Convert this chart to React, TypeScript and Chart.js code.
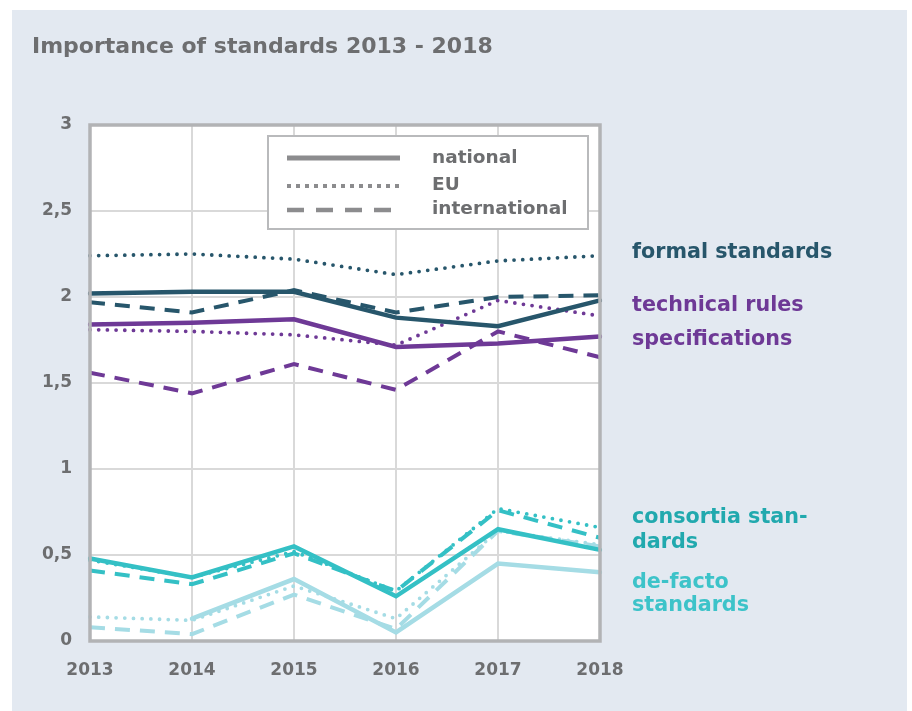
import React, { useEffect, useRef } from "react";
import { Chart, registerables } from "chart.js";

Chart.register(...registerables);

const years = ["2013", "2014", "2015", "2016", "2017", "2018"];
const yTickLabels = ["0", "0,5", "1", "1,5", "2", "2,5", "3"];

const formalNational = [2.02, 2.03, 2.03, 1.88, 1.83, 1.98];
const formalEU = [2.24, 2.25, 2.22, 2.13, 2.21, 2.24];
const formalIntl = [1.97, 1.91, 2.04, 1.91, 2.0, 2.01];

const techNational = [1.84, 1.85, 1.87, 1.71, 1.73, 1.77];
const techEU = [1.81, 1.8, 1.78, 1.72, 1.98, 1.89];
const techIntl = [1.56, 1.44, 1.61, 1.46, 1.8, 1.65];

const consNational = [0.48, 0.37, 0.55, 0.26, 0.65, 0.53];
const consEU = [0.47, 0.37, 0.52, 0.29, 0.77, 0.66];
const consIntl = [0.41, 0.33, 0.51, 0.29, 0.76, 0.6];

const defNational = [null, 0.13, 0.36, 0.05, 0.45, 0.4];
const defEU = [0.14, 0.12, 0.32, 0.13, 0.64, 0.56];
const defIntl = [0.08, 0.04, 0.27, 0.07, 0.64, 0.55];

const legendLabels = ["national", "EU", "international"];
const titleText = "Importance of standards 2013 - 2018";

const FONT = "'DejaVu Sans', sans-serif";
const C_FORMAL = "#27566b";
const C_PURPLE = "#6e3996";
const C_CONS = "#34c0c5";
const C_DEF = "#a5dce5";
const C_TEXT = "#6d6e70";

type Style = "solid" | "dotted" | "dashed";

function ds(label: string, data: (number | null)[], color: string, style: Style) {
  const base: any = {
    label,
    data,
    borderColor: color,
    backgroundColor: color,
    pointRadius: 0,
    pointHoverRadius: 0,
    tension: 0,
    fill: false,
    spanGaps: false,
  };
  if (style === "solid") {
    base.borderWidth = 4.5;
    base.borderCapStyle = "round";
  } else if (style === "dotted") {
    base.borderWidth = 3.8;
    base.borderDash = [0, 8.7];
    base.borderCapStyle = "round";
  } else {
    base.borderWidth = 4;
    base.borderDash = [15, 10];
    base.borderCapStyle = "butt";
  }
  return base;
}

const decorPlugin = {
  id: "decor",
  beforeDraw(chart: any) {
    const { ctx, chartArea } = chart;
    ctx.save();
    ctx.fillStyle = "#ffffff";
    ctx.fillRect(chartArea.left, chartArea.top, chartArea.right - chartArea.left, chartArea.bottom - chartArea.top);
    ctx.fillStyle = C_TEXT;
    ctx.font = `bold 22px ${FONT}`;
    ctx.textBaseline = "middle";
    ctx.textAlign = "left";
    ctx.fillText(titleText, 20, 37);
    ctx.restore();
  },
  afterDatasetsDraw(chart: any) {
    const { ctx, chartArea } = chart;
    ctx.save();
    // plot border
    ctx.strokeStyle = "#b2b3b5";
    ctx.lineWidth = 3.5;
    ctx.setLineDash([]);
    ctx.strokeRect(chartArea.left, chartArea.top, chartArea.right - chartArea.left, chartArea.bottom - chartArea.top);

    // legend box
    const bx = 256, by = 126, bw = 320, bh = 93;
    ctx.fillStyle = "#ffffff";
    ctx.fillRect(bx, by, bw, bh);
    ctx.strokeStyle = "#b9babc";
    ctx.lineWidth = 2;
    ctx.strokeRect(bx, by, bw, bh);

    const rows = [148, 176, 200];
    const styles: { w: number; dash: number[] }[] = [
      { w: 5, dash: [] },
      { w: 4, dash: [4, 5] },
      { w: 4.5, dash: [17, 12] },
    ];
    ctx.strokeStyle = "#8c8c8e";
    ctx.lineCap = "butt";
    rows.forEach((y, i) => {
      ctx.lineWidth = styles[i].w;
      ctx.setLineDash(styles[i].dash);
      ctx.beginPath();
      ctx.moveTo(275, y);
      ctx.lineTo(i === 2 ? 380 : 388, y);
      ctx.stroke();
    });
    ctx.setLineDash([]);
    ctx.fillStyle = C_TEXT;
    ctx.font = `bold 18.5px ${FONT}`;
    ctx.textBaseline = "middle";
    ctx.textAlign = "left";
    legendLabels.forEach((t, i) => ctx.fillText(t, 420, [148, 175, 199][i]));

    // right-side category labels
    ctx.font = `bold 20.7px ${FONT}`;
    const lx = 620;
    const labels: [string, number, string][] = [
      ["formal standards", 243, C_FORMAL],
      ["technical rules", 296, C_PURPLE],
      ["specifications", 330, C_PURPLE],
      ["consortia stan-", 508, "#21a9ae"],
      ["dards", 533, "#21a9ae"],
      ["de-facto", 573, "#3dc3c9"],
      ["standards", 596, "#3dc3c9"],
    ];
    labels.forEach(([t, y, c]) => {
      ctx.fillStyle = c;
      ctx.fillText(t, lx, y);
    });
    ctx.restore();
  },
};

export default function App() {
  const ref = useRef<HTMLCanvasElement | null>(null);
  useEffect(() => {
    if (!ref.current) return;
    const chart = new Chart(ref.current, {
      type: "line",
      data: {
        labels: years,
        datasets: [
          ds("formal national", formalNational, C_FORMAL, "solid"),
          ds("formal EU", formalEU, C_FORMAL, "dotted"),
          ds("formal international", formalIntl, C_FORMAL, "dashed"),
          ds("technical national", techNational, C_PURPLE, "solid"),
          ds("technical EU", techEU, C_PURPLE, "dotted"),
          ds("technical international", techIntl, C_PURPLE, "dashed"),
          ds("consortia national", consNational, C_CONS, "solid"),
          ds("consortia EU", consEU, C_CONS, "dotted"),
          ds("consortia international", consIntl, C_CONS, "dashed"),
          ds("de-facto national", defNational, C_DEF, "solid"),
          ds("de-facto EU", defEU, C_DEF, "dotted"),
          ds("de-facto international", defIntl, C_DEF, "dashed"),
        ],
      },
      options: {
        responsive: false,
        animation: false,
        events: [],
        layout: { padding: { left: 18, right: 307, top: 115, bottom: 30 } },
        plugins: {
          legend: { display: false },
          title: { display: false },
          tooltip: { enabled: false },
        },
        scales: {
          x: {
            offset: false,
            border: { display: false },
            grid: { color: "#d9d9d9", lineWidth: 2, drawTicks: false },
            ticks: {
              color: C_TEXT,
              font: { family: FONT, size: 17, weight: "bold" },
              padding: 19,
              maxRotation: 0,
              autoSkip: false,
            },
            afterFit: (s: any) => {
              s.height = 40;
            },
          },
          y: {
            min: 0,
            max: 3,
            border: { display: false },
            grid: { color: "#d9d9d9", lineWidth: 2, drawTicks: false },
            ticks: {
              stepSize: 0.5,
              color: C_TEXT,
              font: { family: FONT, size: 17, weight: "bold" },
              padding: 18,
              callback: (v: any) => yTickLabels[Math.round(Number(v) * 2)] ?? "",
            },
            afterFit: (s: any) => {
              s.width = 60;
            },
          },
        },
      },
      plugins: [decorPlugin],
    } as any);
    return () => chart.destroy();
  }, []);

  return (
    <div
      style={{
        position: "absolute",
        left: 12,
        top: 10,
        width: 895,
        height: 701,
        background: "#e3e9f1",
      }}
    >
      <canvas ref={ref} width={895} height={701} style={{ width: 895, height: 701, display: "block" }} />
    </div>
  );
}
